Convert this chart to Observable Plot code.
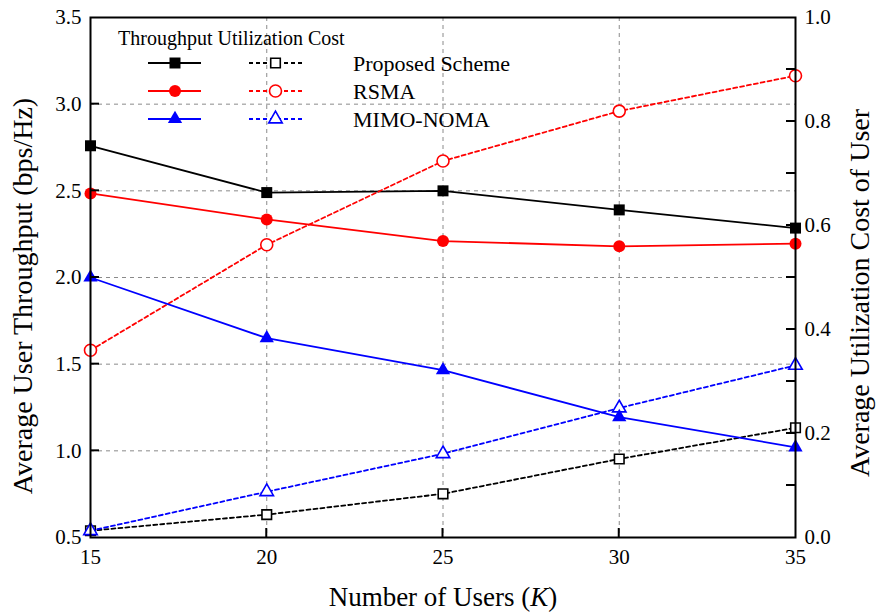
<!DOCTYPE html>
<html><head><meta charset="utf-8">
<script src="https://cdn.jsdelivr.net/npm/d3@7"></script>
<script src="https://cdn.jsdelivr.net/npm/@observablehq/plot@0.6"></script>
<style>
body{margin:0;background:#fff}
#wrap{position:relative;width:876px;height:615px}
</style>
</head><body><div id="wrap"></div>
<script>
// ---- data ----
const users = [15, 20, 25, 30, 35];
const schemes = ["Proposed Scheme", "RSMA", "MIMO-NOMA"];
const throughputProposed = [2.76, 2.49, 2.50, 2.39, 2.285];
const throughputRSMA = [2.485, 2.335, 2.21, 2.18, 2.195];
const throughputNOMA = [2.0, 1.65, 1.465, 1.195, 1.02];
const costProposed = [0.013, 0.044, 0.084, 0.151, 0.211];
const costRSMA = [0.36, 0.563, 0.724, 0.82, 0.888];
const costNOMA = [0.013, 0.088, 0.161, 0.249, 0.331];
const leftTicks = [0.5, 1.0, 1.5, 2.0, 2.5, 3.0, 3.5];
const rightTicks = [0.0, 0.2, 0.4, 0.6, 0.8, 1.0];
const rightMinorTicks = [0.1, 0.3, 0.5, 0.7, 0.9];
const xTicks = [15, 20, 25, 30, 35];
const colors = ["#000000", "#ff0000", "#0000ff"];
const symbols = ["square", "circle", "triangle"];
const rFilled = [6.2, 6, 5.3];
const rOpen = [5.4, 6, 5];

// ---- layout ----
const W = 876, H = 615, mL = 90, mR = 81, mT = 17, mB = 78;
const FONT = "'Liberation Serif', 'Times New Roman', serif";

// cost (0..1) mapped onto the left throughput scale (0.5..3.5)
const costToLeft = d3.scaleLinear().domain([0, 1]).range([0.5, 3.5]);

const throughputs = [throughputProposed, throughputRSMA, throughputNOMA];
const costs = [costProposed, costRSMA, costNOMA];
const rows = [];
schemes.forEach((s, i) => users.forEach((u, j) => rows.push({
  scheme: s, idx: i, K: u, thr: throughputs[i][j], cost: costs[i][j], costY: costToLeft(costs[i][j])
})));

const marks = [
  Plot.gridY(leftTicks.slice(1, -1), {stroke: "#8a8a8a", strokeOpacity: 1, strokeDasharray: "4,4", strokeWidth: 1}),
  Plot.gridX(xTicks.slice(1, -1), {stroke: "#8a8a8a", strokeOpacity: 1, strokeDasharray: "4,4", strokeWidth: 1}),
];
schemes.forEach((s, i) => {
  const data = rows.filter(d => d.idx === i);
  marks.push(
    Plot.line(data, {x: "K", y: "costY", stroke: colors[i], strokeWidth: 1.8, strokeDasharray: "4,3"}),
    Plot.line(data, {x: "K", y: "thr", stroke: colors[i], strokeWidth: 1.8})
  );
});
schemes.forEach((s, i) => {
  const data = rows.filter(d => d.idx === i);
  marks.push(
    Plot.dot(data, {x: "K", y: "costY", symbol: () => symbols[i], r: rOpen[i], fill: "white", stroke: colors[i], strokeWidth: 1.6}),
    Plot.dot(data, {x: "K", y: "thr", symbol: () => symbols[i], r: rFilled[i], fill: colors[i], stroke: "none"})
  );
});
marks.push(
  Plot.frame({stroke: "black", strokeWidth: 2}),
  Plot.axisY(leftTicks, {anchor: "left", tickSize: 0, tickPadding: 9, tickFormat: d3.format(".1f"), label: null}),
  Plot.axisY(rightTicks.map(costToLeft), {anchor: "right", tickSize: 0, tickPadding: 9,
    tickFormat: d => d3.format(".1f")(costToLeft.invert(d)), label: null}),
  Plot.axisX(xTicks, {anchor: "bottom", tickSize: 0, tickPadding: 12, tickFormat: d => String(d), label: null})
);

const chart = Plot.plot({
  width: W, height: H,
  marginLeft: mL, marginRight: mR, marginTop: mT, marginBottom: mB,
  style: {fontFamily: FONT, fontSize: "21px", color: "#000", background: "#fff", overflow: "visible"},
  x: {domain: [15, 35]},
  y: {domain: [0.5, 3.5]},
  marks
});
document.getElementById("wrap").appendChild(chart);

const svg = d3.select(chart);
const xs = chart.scale("x"), ys = chart.scale("y");

// ---- inward ticks, positioned through Plot's scales ----
const tg = svg.append("g").attr("stroke", "black").attr("stroke-width", 2);
const x0 = xs.apply(15), x1 = xs.apply(35), yb = ys.apply(0.5);
leftTicks.slice(1, -1).forEach(v => {
  const y = ys.apply(v);
  tg.append("line").attr("x1", x0).attr("x2", x0 + 9).attr("y1", y).attr("y2", y);
});
rightTicks.slice(1, -1).concat(rightMinorTicks).forEach(v => {
  const y = ys.apply(costToLeft(v));
  tg.append("line").attr("x1", x1 - 9).attr("x2", x1).attr("y1", y).attr("y2", y);
});
xTicks.slice(1, -1).forEach(v => {
  const x = xs.apply(v);
  tg.append("line").attr("x1", x).attr("x2", x).attr("y1", yb).attr("y2", yb - 9);
});

// ---- axis titles and legend (real text) ----
const g = svg.append("g").attr("font-family", FONT).attr("fill", "black");
g.append("text").attr("transform", "translate(32,296) rotate(-90)").attr("text-anchor", "middle")
  .attr("font-size", 28).text("Average User Throughput (bps/Hz)");
g.append("text").attr("transform", "translate(869,293) rotate(-90)").attr("text-anchor", "middle")
  .attr("font-size", 28).text("Average Utilization Cost of User");
const xt = g.append("text").attr("x", 443).attr("y", 606).attr("text-anchor", "middle").attr("font-size", 27);
xt.append("tspan").text("Number of Users (");
xt.append("tspan").attr("font-style", "italic").text("K");
xt.append("tspan").text(")");

const leg = g.append("g").attr("text-anchor", "start");
leg.append("text").attr("x", 118).attr("y", 45).attr("text-anchor", "start").attr("font-size", 20).text("Throughput Utilization Cost");
const rowY = [63, 91, 119];
const symFn = name => d3["symbol" + name[0].toUpperCase() + name.slice(1)];
schemes.forEach((s, i) => {
  const y = rowY[i];
  leg.append("line").attr("x1", 148).attr("x2", 201).attr("y1", y).attr("y2", y)
    .attr("stroke", colors[i]).attr("stroke-width", 1.8);
  leg.append("path").attr("transform", `translate(175,${y})`)
    .attr("d", d3.symbol(symFn(symbols[i]), Math.PI * rFilled[i] * rFilled[i])())
    .attr("fill", colors[i]);
  leg.append("line").attr("x1", 249).attr("x2", 302).attr("y1", y).attr("y2", y)
    .attr("stroke", colors[i]).attr("stroke-width", 1.8).attr("stroke-dasharray", "4,3");
  leg.append("path").attr("transform", `translate(275.5,${y})`)
    .attr("d", d3.symbol(symFn(symbols[i]), Math.PI * rOpen[i] * rOpen[i])())
    .attr("fill", "white").attr("stroke", colors[i]).attr("stroke-width", 1.6);
  leg.append("text").attr("x", 353).attr("y", y).attr("dy", "0.35em").attr("text-anchor", "start")
    .attr("font-size", 22).text(s);
});
</script>
</body></html>
